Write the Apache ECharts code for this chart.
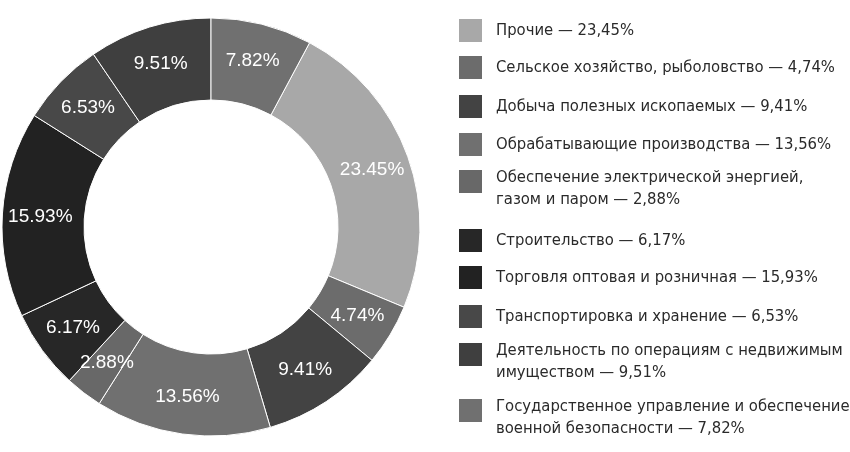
<!DOCTYPE html>
<html>
<head>
<meta charset="utf-8">
<script src="https://cdn.jsdelivr.net/npm/echarts@6/dist/echarts.min.js"></script>
<style>
  html, body { margin: 0; padding: 0; background: #fff; }
  #chart { width: 850px; height: 452px; }
</style>
</head>
<body>
<div id="chart"></div>
<script>
// Sectors in legend order (clockwise from just after "Государственное...")
const categories = [
  'Прочие',
  'Сельское хозяйство, рыболовство',
  'Добыча полезных ископаемых',
  'Обрабатывающие производства',
  'Обеспечение электрической энергией,\nгазом и паром',
  'Строительство',
  'Торговля оптовая и розничная',
  'Транспортировка и хранение',
  'Деятельность по операциям с недвижимым\nимуществом',
  'Государственное управление и обеспечение\nвоенной безопасности'
];
const shares = [23.45, 4.74, 9.41, 13.56, 2.88, 6.17, 15.93, 6.53, 9.51, 7.82];
const colors = ['#a8a8a8', '#6c6c6c', '#434343', '#707070', '#686868',
                '#272727', '#222222', '#484848', '#3f3f3f', '#707070'];

// legend rows (swatch top, px)
const legendTops = [17, 54, 93, 131, 169, 227, 264, 303, 342, 398];

const chart = echarts.init(document.getElementById('chart'), null, { renderer: 'canvas' });

// two-line entries get an empty spacer line on top so the text sits a bit lower than the swatch
const fmtLegend = name => {
  const i = categories.indexOf(name);
  const txt = name + ' — ' + shares[i].toFixed(2).replace('.', ',') + '%';
  const lines = txt.split('\n').map(l => '{t|' + l + '}');
  return (lines.length > 1 ? '{s| }\n' : '') + lines.join('\n');
};

const legends = categories.map((name, i) => {
  const multi = name.includes('\n');
  return {
    data: [name],
    left: 452,
    top: legendTops[i] - 5 - (multi ? 10.5 : 0),
    orient: 'vertical',
    icon: 'rect',
    itemWidth: 25,
    itemHeight: 25,
    selectedMode: false,
    formatter: fmtLegend,
    textStyle: {
      padding: [0, 0, 0, 8],
      rich: {
        t: {
          fontFamily: '"DejaVu Sans Condensed", sans-serif',
          fontSize: 16.5,
          color: '#2a2a2a',
          lineHeight: 22
        },
        s: { fontSize: 2, lineHeight: 14 }
      }
    }
  };
});

chart.setOption({
  animation: false,
  color: colors,
  legend: legends,
  series: [{
    type: 'pie',
    center: [211, 227],
    radius: [127, 209],
    startAngle: 90 - shares[shares.length - 1] * 3.6,
    clockwise: true,
    avoidLabelOverlap: false,
    itemStyle: { borderColor: '#fff', borderWidth: 1 },
    label: {
      show: true,
      position: 'inside',
      color: '#fff',
      fontFamily: 'Arial, "Liberation Sans", sans-serif',
      fontSize: 19,
      formatter: p => shares[p.dataIndex].toFixed(2) + '%'
    },
    labelLine: { show: false },
    data: categories.map((name, i) => ({ name, value: shares[i] }))
  }]
});
</script>
</body>
</html>
